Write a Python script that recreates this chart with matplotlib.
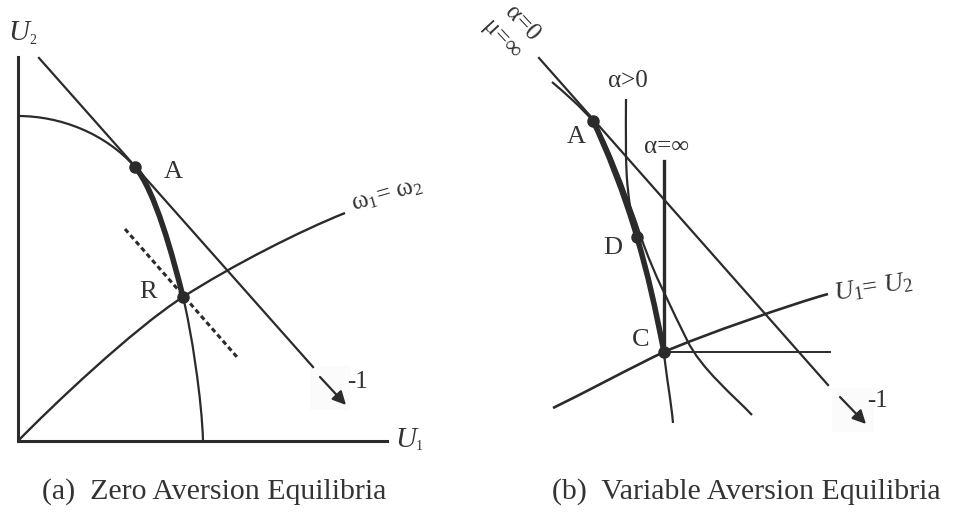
import matplotlib.pyplot as plt
from matplotlib.path import Path
from matplotlib.patches import PathPatch, Rectangle

plt.rcParams['font.family'] = ['Liberation Serif', 'DejaVu Serif']
plt.rcParams['mathtext.fontset'] = 'custom'
plt.rcParams['mathtext.rm'] = 'Liberation Serif'
plt.rcParams['mathtext.it'] = 'Liberation Serif:italic'

INK = '#2b2b2b'
TXT = '#333333'

# everything is laid out in page pixels, y pointing down
# --- panel (a): zero aversion equilibria ---
a_axis_x = [18, 18, 387]
a_axis_y = [57, 441, 441]
# utility frontier as cubic bezier pieces (start, c1, c2, end, c1, c2, end ...)
a_frontier = [(18, 116), (60, 116), (105, 133), (135, 167),
              (155, 190), (173, 257), (183, 297),
              (191, 329), (202, 400), (203, 441)]
a_locus = [(135, 167), (155, 190), (173, 257), (183, 297)]
a_equal = [(18, 441), (50, 408), (133, 329), (183, 297),
           (233, 265), (300, 231), (345, 213)]
a_budget_x = [39, 313]
a_budget_y = [58, 367]
a_dash_x = [125, 237]
a_dash_y = [229, 357]
a_arrow = [(320, 377), (346, 405)]
a_dots = [(135, 167), (183, 297)]

# --- panel (b): variable aversion equilibria ---
b_budget_x = [539, 828]
b_budget_y = [58, 385]
b_arrow = [(840, 397), (866, 424)]
b_alpha0 = [(552, 82), (566, 94), (579, 105), (593, 121),
            (603, 133), (625, 189), (641, 237),
            (653, 273), (673, 311), (687, 340),
            (701, 369), (734, 396), (752, 415)]
b_alpha_pos = [(626, 99), (626, 130), (625, 165), (628, 190),
               (629.5, 202), (629, 209), (637, 237),
               (649, 279), (654, 302), (664, 352),
               (666, 375), (671, 400), (673, 423)]
b_locus = [(593, 121), (605, 145), (625, 195), (637, 237),
           (649, 279), (654, 302), (664, 352)]
b_leontief_x = [664, 664]
b_leontief_y = [161, 352]
b_floor_x = [664, 830]
b_floor_y = [352, 352]
b_equal = [(553, 408), (580, 395), (640, 363), (664, 352),
           (700, 336), (795, 303), (828, 294)]
b_dots = [(593, 121), (637, 237), (664, 352)]

# axis names: letter, subscript, x, y
axis_names = [('U', '2', 19, 33), ('U', '1', 406, 440)]

# labels: text, x, y, size, rotation
labels = [
    ('A', 173, 172, 19, 0),
    ('R', 148, 292, 19, 0),
    (r'$\mathregular{\omega_1}$= $\mathregular{\omega_2}$', 387, 195, 18, 16),
    ('-1', 357, 382, 18, 0),
    ('α=0', 522, 23, 18, -47),
    ('μ=∞', 502, 40, 18, -47),
    ('α>0', 628, 81, 18, 0),
    ('α=∞', 667, 147, 18, 0),
    ('A', 576, 137, 19, 0),
    ('D', 613, 248, 19, 0),
    ('C', 641, 340, 19, 0),
    (r'$U_1$= $U_2$', 873, 288, 19, 9),
    ('-1', 877, 401, 18, 0),
]
captions = [('(a)  Zero Aversion Equilibria', 42, 492),
            ('(b)  Variable Aversion Equilibria', 552, 492)]


def bezier(ax, pts, lw):
    codes = [Path.MOVETO] + [Path.CURVE4] * (len(pts) - 1)
    ax.add_patch(PathPatch(Path(pts, codes), fill=False, ec=INK, lw=lw,
                           capstyle='butt', joinstyle='round'))


fig = plt.figure(figsize=(9.64, 5.12), dpi=100)
ax = fig.add_axes([0, 0, 1, 1])
ax.set_xlim(0, 964)
ax.set_ylim(512, 0)
ax.axis('off')

# faint boxes behind the slope arrows
ax.add_patch(Rectangle((310, 366), 40, 44, fc='#fbfbfb', ec='none', zorder=0))
ax.add_patch(Rectangle((832, 388), 42, 44, fc='#fbfbfb', ec='none', zorder=0))

# panel (a)
ax.plot(a_axis_x, a_axis_y, color=INK, lw=2.2, solid_joinstyle='miter')
bezier(ax, a_frontier, 1.6)
bezier(ax, a_locus, 4.0)
bezier(ax, a_equal, 1.7)
ax.plot(a_budget_x, a_budget_y, color=INK, lw=1.6)
ax.plot(a_dash_x, a_dash_y, color=INK, lw=2.2, ls=(0, (1.6, 1.1)))
ax.annotate('', xy=a_arrow[1], xytext=a_arrow[0],
            arrowprops=dict(arrowstyle='-|>', color=INK, lw=1.6,
                            mutation_scale=20, shrinkA=0, shrinkB=0))
ax.plot(*zip(*a_dots), 'o', color=INK, ms=8)

# panel (b)
ax.plot(b_budget_x, b_budget_y, color=INK, lw=1.6)
bezier(ax, b_alpha0, 1.6)
bezier(ax, b_alpha_pos, 1.6)
bezier(ax, b_locus, 4.0)
bezier(ax, b_equal, 1.9)
ax.plot(b_leontief_x, b_leontief_y, color=INK, lw=2.4)
ax.plot(b_floor_x, b_floor_y, color=INK, lw=1.4)
ax.annotate('', xy=b_arrow[1], xytext=b_arrow[0],
            arrowprops=dict(arrowstyle='-|>', color=INK, lw=1.6,
                            mutation_scale=20, shrinkA=0, shrinkB=0))
ax.plot(*zip(*b_dots), 'o', color=INK, ms=8)

for name, sub, x, y in axis_names:
    ax.text(x, y, name, fontsize=21, style='italic', color=TXT,
            ha='center', va='center')
    ax.text(x + 10, y + 7, sub, fontsize=10, color=TXT,
            ha='left', va='center')

for txt, x, y, size, rot in labels:
    ax.text(x, y, txt, fontsize=size, rotation=rot, color=TXT,
            ha='center', va='center', rotation_mode='anchor')

for txt, x, y in captions:
    ax.text(x, y, txt, fontsize=21.5, color=TXT, ha='left', va='center')

fig.savefig('out.png', dpi=100)
